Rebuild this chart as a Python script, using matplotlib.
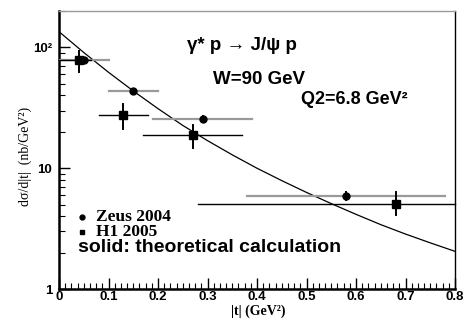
#!/usr/bin/env python3
"""
plot.py
J/psi electroproduction: dsigma/d|t| at W=90 GeV, Q2=6.8 GeV^2,
ZEUS 2004 and H1 2005 points with the theoretical curve.

Creates out.png
"""

import matplotlib.pyplot as plt
from matplotlib.ticker import FixedLocator, MultipleLocator, NullFormatter

# ZEUS 2004 (circles, grey horizontal bars)
zeus_t = [0.05, 0.15, 0.29, 0.58]
zeus_sig = [78.0, 43.6, 25.4, 5.9]
zeus_t_lo = [0.0, 0.10, 0.19, 0.38]
zeus_t_hi = [0.10, 0.20, 0.39, 0.78]
zeus_sig_lo = [75.0, 41.5, 24.0, 5.5]
zeus_sig_hi = [81.0, 45.5, 26.8, 6.4]

# H1 2005 (squares, black bars)
h1_t = [0.04, 0.13, 0.27, 0.68]
h1_sig = [78.0, 27.4, 18.7, 5.1]
h1_t_lo = [0.0, 0.08, 0.17, 0.28]
h1_t_hi = [0.065, 0.18, 0.37, 0.80]
h1_sig_lo = [62.0, 21.3, 14.6, 4.1]
h1_sig_hi = [92.5, 33.8, 22.6, 6.3]

# theoretical curve
theory_t = [0.0, 0.05, 0.10, 0.15, 0.20, 0.25, 0.30, 0.35, 0.40, 0.45,
            0.50, 0.55, 0.60, 0.65, 0.70, 0.75, 0.80]
theory_sig = [134.9, 90.7, 62.2, 43.6, 31.1, 22.6, 16.9, 12.9, 9.99, 7.89,
              6.30, 5.09, 4.15, 3.41, 2.85, 2.41, 2.05]

y_ticks = [1, 10, 100]
y_tick_labels = ["1", "10", "10²"]
x_ticks = [0.0, 0.1, 0.2, 0.3, 0.4, 0.5, 0.6, 0.7, 0.8]
x_tick_labels = ["0", "0.1", "0.2", "0.3", "0.4", "0.5", "0.6", "0.7", "0.8"]

SANS = "Liberation Sans"
SERIF = "Liberation Serif"
W_PX, H_PX = 465, 318


def fx(px):
    return px / W_PX


def fy(py):
    return 1 - py / H_PX


def main():
    fig = plt.figure(figsize=(W_PX / 100, H_PX / 100), dpi=100)
    ax = fig.add_axes([fx(59), fy(289), fx(455) - fx(59), fy(11) - fy(289)])

    ax.set_yscale("log")
    ax.set_xlim(0, 0.8)
    ax.set_ylim(1, 200)

    # theory curve
    ax.plot(theory_t, theory_sig, color="black", lw=0.9, zorder=2)

    # ZEUS: grey horizontal bars, short black vertical bars, circles
    for t, s, tl, th, sl, sh in zip(zeus_t, zeus_sig, zeus_t_lo, zeus_t_hi,
                                    zeus_sig_lo, zeus_sig_hi):
        ax.plot([tl, th], [s, s], color="#9a9a9a", lw=1.6, zorder=3)
        ax.plot([t, t], [sl, sh], color="black", lw=1.4, zorder=4)
    ax.plot(zeus_t, zeus_sig, "o", color="black", ms=5, zorder=5)

    # H1: black bars and squares
    for t, s, tl, th, sl, sh in zip(h1_t, h1_sig, h1_t_lo, h1_t_hi,
                                    h1_sig_lo, h1_sig_hi):
        ax.plot([tl, th], [s, s], color="black", lw=1.0, zorder=4,
                clip_on=False)
        ax.plot([t, t], [sl, sh], color="black", lw=1.4, zorder=4)
    ax.plot(h1_t, h1_sig, "s", color="black", ms=5.5, zorder=5)

    # frame
    for side in ("left", "bottom"):
        ax.spines[side].set_linewidth(1.8)
    ax.spines["right"].set_linewidth(1.0)
    ax.spines["top"].set_linewidth(1.0)
    ax.spines["top"].set_color("#9a9a9a")

    # ticks
    ax.xaxis.set_major_locator(FixedLocator(x_ticks))
    ax.xaxis.set_minor_locator(MultipleLocator(0.0125))
    ax.set_xticklabels(x_tick_labels)
    ax.yaxis.set_major_locator(FixedLocator(y_ticks))
    ax.set_yticklabels(y_tick_labels)
    ax.yaxis.set_minor_formatter(NullFormatter())
    ax.tick_params(which="both", direction="in", top=False, right=False)
    ax.tick_params(which="major", length=8, width=1.0)
    ax.tick_params(which="minor", length=4, width=0.8)
    ax.tick_params(axis="x", pad=1.5)
    ax.tick_params(axis="y", pad=5)
    for lab in ax.get_xticklabels() + ax.get_yticklabels():
        lab.set_fontfamily(SANS)
        lab.set_fontweight("bold")
        lab.set_fontsize(9.5)

    # axis titles
    fig.text(fx(258), fy(318), "|t| (GeV²)", family=SERIF, weight="bold",
             fontsize=10, ha="center", va="bottom")
    fig.text(fx(25), fy(156), "dσ/d|t|  (nb/GeV²)", family=SERIF,
             fontsize=10, rotation=90, ha="center", va="center")

    # annotations
    fig.text(fx(187), fy(45), "γ* p → J/ψ p", family=SANS, weight="bold",
             fontsize=13.5, ha="left", va="center")
    fig.text(fx(213), fy(80), "W=90 GeV", family=SANS, weight="bold",
             fontsize=13.5, ha="left", va="center")
    fig.text(fx(408), fy(99), "Q2=6.8 GeV²", family=SANS, weight="bold",
             fontsize=13, ha="right", va="center")

    # legend block
    ax.plot([(82 - 59) / 396], [(289 - 217) / 278], "o", color="black",
            ms=3.5, transform=ax.transAxes, clip_on=False)
    ax.plot([(82 - 59) / 396], [(289 - 232) / 278], "s", color="black",
            ms=3.5, transform=ax.transAxes, clip_on=False)
    fig.text(fx(96), fy(217), "Zeus 2004", family=SERIF, weight="bold",
             fontsize=12.5, ha="left", va="center")
    fig.text(fx(96), fy(232), "H1 2005", family=SERIF, weight="bold",
             fontsize=12.5, ha="left", va="center")
    fig.text(fx(78), fy(248), "solid: theoretical calculation", family=SANS,
             weight="bold", fontsize=14, ha="left", va="center")

    fig.savefig("out.png", dpi=100)
    plt.close(fig)


if __name__ == "__main__":
    main()
